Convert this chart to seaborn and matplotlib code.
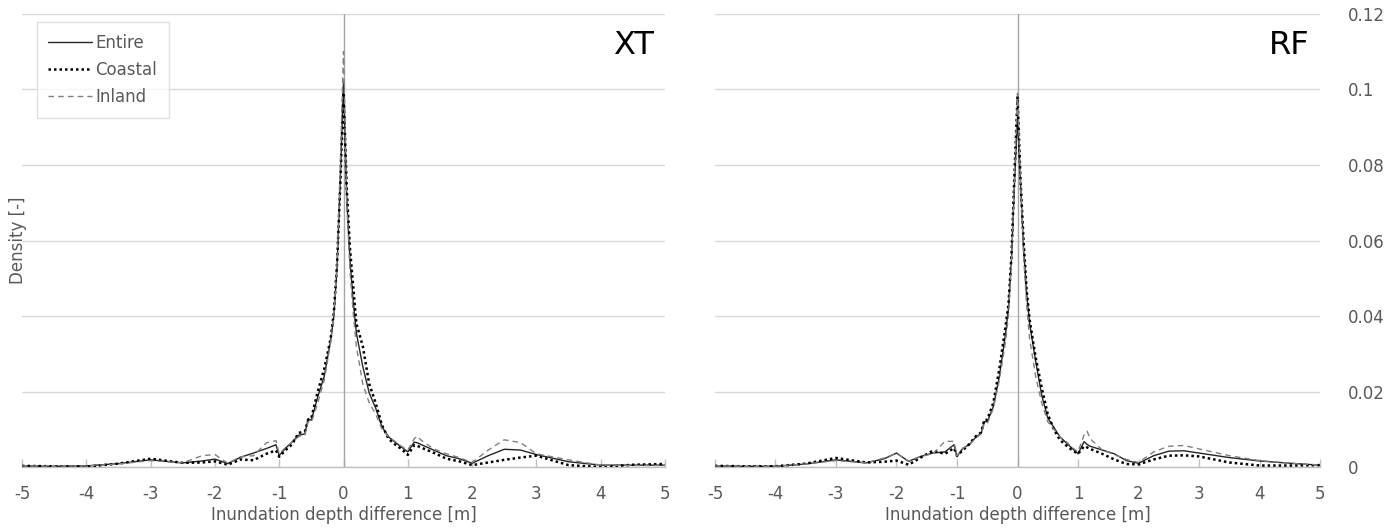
import numpy as np
import pandas as pd
import matplotlib
matplotlib.use('Agg')
from matplotlib import pyplot as plt
import seaborn as sns

# depth difference grid shared by every curve [m]
x_vals = [-5, -4.5, -4, -3.5, -3, -2.5, -2.2, -2.0, -1.8, -1.6, -1.4, -1.2, -1.05, -1.0,
          -0.9, -0.8, -0.7, -0.6, -0.55, -0.5, -0.4, -0.3, -0.2, -0.15, -0.1, -0.05, 0.0,
          0.05, 0.1, 0.15, 0.2, 0.3, 0.4, 0.5, 0.6, 0.7, 0.8, 0.9, 1.0, 1.1, 1.15, 1.2,
          1.4, 1.6, 1.8, 2.0, 2.25, 2.5, 2.75, 3.0, 3.5, 4.0, 4.5, 5.0]

#* XT panel
xt_entire = [0.0003, 0.0002, 0.0003, 0.0009, 0.0019, 0.0011, 0.0016, 0.0021, 0.0009, 0.0026,
             0.0037, 0.0049, 0.0059, 0.0030, 0.0050, 0.0066, 0.0084, 0.0088, 0.0128, 0.0124,
             0.0186, 0.0240, 0.0336, 0.0400, 0.0530, 0.0760, 0.1020, 0.0716, 0.0550, 0.0440,
             0.0355, 0.0266, 0.0196, 0.0156, 0.0106, 0.0080, 0.0066, 0.0053, 0.0040, 0.0066,
             0.0064, 0.0060, 0.0045, 0.0030, 0.0022, 0.0010, 0.0030, 0.0047, 0.0045, 0.0033,
             0.0014, 0.0005, 0.0005, 0.0005]
xt_coastal = [0.0003, 0.0002, 0.0001, 0.0009, 0.0022, 0.0011, 0.0012, 0.0015, 0.0006, 0.0020,
              0.0018, 0.0035, 0.0044, 0.0027, 0.0045, 0.0060, 0.0090, 0.0095, 0.0125, 0.0130,
              0.0200, 0.0260, 0.0340, 0.0410, 0.0540, 0.0750, 0.1000, 0.0740, 0.0580, 0.0480,
              0.0380, 0.0320, 0.0220, 0.0170, 0.0110, 0.0075, 0.0060, 0.0048, 0.0032, 0.0058,
              0.0056, 0.0052, 0.0038, 0.0022, 0.0015, 0.0005, 0.0012, 0.0019, 0.0025, 0.0030,
              0.0005, 0.0000, 0.0006, 0.0008]
xt_inland = [0.0003, 0.0002, 0.0003, 0.0008, 0.0017, 0.0011, 0.0030, 0.0033, 0.0010, 0.0027,
             0.0030, 0.0064, 0.0070, 0.0035, 0.0052, 0.0066, 0.0080, 0.0085, 0.0120, 0.0118,
             0.0170, 0.0230, 0.0330, 0.0400, 0.0540, 0.0800, 0.1100, 0.0700, 0.0520, 0.0410,
             0.0320, 0.0220, 0.0170, 0.0140, 0.0100, 0.0080, 0.0068, 0.0055, 0.0045, 0.0075,
             0.0082, 0.0072, 0.0048, 0.0035, 0.0025, 0.0012, 0.0045, 0.0072, 0.0065, 0.0035,
             0.0019, 0.0005, 0.0004, 0.0004]

#* RF panel
rf_entire = [0.0003, 0.0002, 0.0002, 0.0008, 0.0019, 0.0011, 0.0022, 0.0037, 0.0015, 0.0028,
             0.0037, 0.0040, 0.0059, 0.0028, 0.0050, 0.0059, 0.0077, 0.0090, 0.0120, 0.0120,
             0.0160, 0.0240, 0.0350, 0.0420, 0.0550, 0.0750, 0.0930, 0.0750, 0.0580, 0.0460,
             0.0380, 0.0280, 0.0190, 0.0130, 0.0105, 0.0080, 0.0065, 0.0050, 0.0035, 0.0067,
             0.0060, 0.0055, 0.0045, 0.0035, 0.0017, 0.0010, 0.0030, 0.0042, 0.0043, 0.0037,
             0.0025, 0.0016, 0.0010, 0.0005]
rf_coastal = [0.0003, 0.0002, 0.0002, 0.0009, 0.0024, 0.0012, 0.0014, 0.0017, 0.0006, 0.0025,
              0.0043, 0.0035, 0.0050, 0.0030, 0.0045, 0.0060, 0.0080, 0.0092, 0.0125, 0.0125,
              0.0170, 0.0260, 0.0370, 0.0430, 0.0560, 0.0780, 0.0980, 0.0760, 0.0600, 0.0470,
              0.0390, 0.0290, 0.0210, 0.0140, 0.0100, 0.0072, 0.0058, 0.0045, 0.0035, 0.0055,
              0.0052, 0.0048, 0.0035, 0.0020, 0.0008, 0.0007, 0.0020, 0.0030, 0.0031, 0.0028,
              0.0012, 0.0004, 0.0004, 0.0005]
rf_inland = [0.0003, 0.0002, 0.0002, 0.0008, 0.0017, 0.0011, 0.0024, 0.0036, 0.0016, 0.0028,
             0.0035, 0.0068, 0.0068, 0.0030, 0.0050, 0.0058, 0.0075, 0.0088, 0.0115, 0.0115,
             0.0155, 0.0230, 0.0330, 0.0400, 0.0540, 0.0770, 0.0990, 0.0760, 0.0560, 0.0430,
             0.0340, 0.0240, 0.0170, 0.0120, 0.0100, 0.0080, 0.0068, 0.0052, 0.0040, 0.0085,
             0.0095, 0.0075, 0.0045, 0.0033, 0.0020, 0.0012, 0.0040, 0.0055, 0.0057, 0.0048,
             0.0030, 0.0017, 0.0010, 0.0005]

x_ticks = [-5, -4, -3, -2, -1, 0, 1, 2, 3, 4, 5]
y_ticks = [0, 0.02, 0.04, 0.06, 0.08, 0.1, 0.12]
y_tick_labels = ['0', '0.02', '0.04', '0.06', '0.08', '0.1', '0.12']

sns.set_theme(style='white')
plt.rcParams['font.family'] = ['DejaVu Sans']

GRAY_TXT = '#595959'
FS = 12
styles = {'Entire': dict(color='#262626', linestyle='-', linewidth=1.0),
          'Coastal': dict(color='#000000', linestyle=(0, (1, 1.2)), linewidth=1.8),
          'Inland': dict(color='#808080', linestyle=(0, (4, 3)), linewidth=1.0)}

fig = plt.figure(figsize=(13.91, 5.28), dpi=100)
ax_l = fig.add_axes([0.0158, 0.1155, 0.4623, 0.858])
ax_r = fig.add_axes([0.514, 0.1155, 0.435, 0.858])

panels = [(ax_l, 'XT', {'Entire': xt_entire, 'Coastal': xt_coastal, 'Inland': xt_inland}),
          (ax_r, 'RF', {'Entire': rf_entire, 'Coastal': rf_coastal, 'Inland': rf_inland})]

for ax, name, series in panels:
    df = pd.DataFrame({'x': x_vals * 3,
                       'y': series['Entire'] + series['Coastal'] + series['Inland'],
                       'group': ['Entire'] * len(x_vals) + ['Coastal'] * len(x_vals) + ['Inland'] * len(x_vals)})
    for g in ['Entire', 'Coastal', 'Inland']:
        sns.lineplot(data=df[df.group == g], x='x', y='y', ax=ax, label=g,
                     legend=False, zorder=3, **styles[g])
    ax.set_xlim(-5, 5)
    ax.set_ylim(0, 0.12)
    ax.set_xticks(x_ticks)
    ax.set_xticklabels([str(t) for t in x_ticks])
    ax.set_yticks(y_ticks)
    ax.grid(axis='y', color='#d9d9d9', linewidth=1.0)
    ax.grid(axis='x', visible=False)
    ax.axvline(0, color='#a6a6a6', linewidth=1.0, zorder=2)
    for s in ['top', 'left', 'right']:
        ax.spines[s].set_visible(False)
    ax.spines['bottom'].set_color('#bfbfbf')
    ax.spines['bottom'].set_linewidth(1.0)
    ax.tick_params(axis='x', direction='in', length=6, width=1, color='#bfbfbf',
                   labelsize=FS, labelcolor=GRAY_TXT, pad=13, bottom=True)
    ax.set_xlabel('Inundation depth difference [m]', fontsize=FS, color=GRAY_TXT, labelpad=2)
    ax.set_ylabel('')
    ax.text(0.982, 0.93, name, transform=ax.transAxes, ha='right', va='center',
            fontsize=23, color='black')

ax_l.tick_params(axis='y', left=False, right=False, labelleft=False, labelright=False)
ax_r.tick_params(axis='y', left=False, right=False, labelleft=False, labelright=True,
                 labelsize=FS, labelcolor=GRAY_TXT, pad=14)
ax_r.set_yticklabels(y_tick_labels)

ax_l.text(-0.006, 0.5, 'Density [-]', transform=ax_l.transAxes, rotation=90,
          ha='center', va='center', fontsize=FS, color=GRAY_TXT)

leg = ax_l.legend(loc='upper left', bbox_to_anchor=(0.023, 0.982), frameon=True,
                  fancybox=False, edgecolor='#d9d9d9', fontsize=FS, handlelength=2.6,
                  handletextpad=0.2, labelspacing=0.55, borderpad=0.7, borderaxespad=0)
for t in leg.get_texts():
    t.set_color(GRAY_TXT)
leg.get_frame().set_linewidth(1.0)

plt.savefig('out.png', dpi=100)
plt.close()
